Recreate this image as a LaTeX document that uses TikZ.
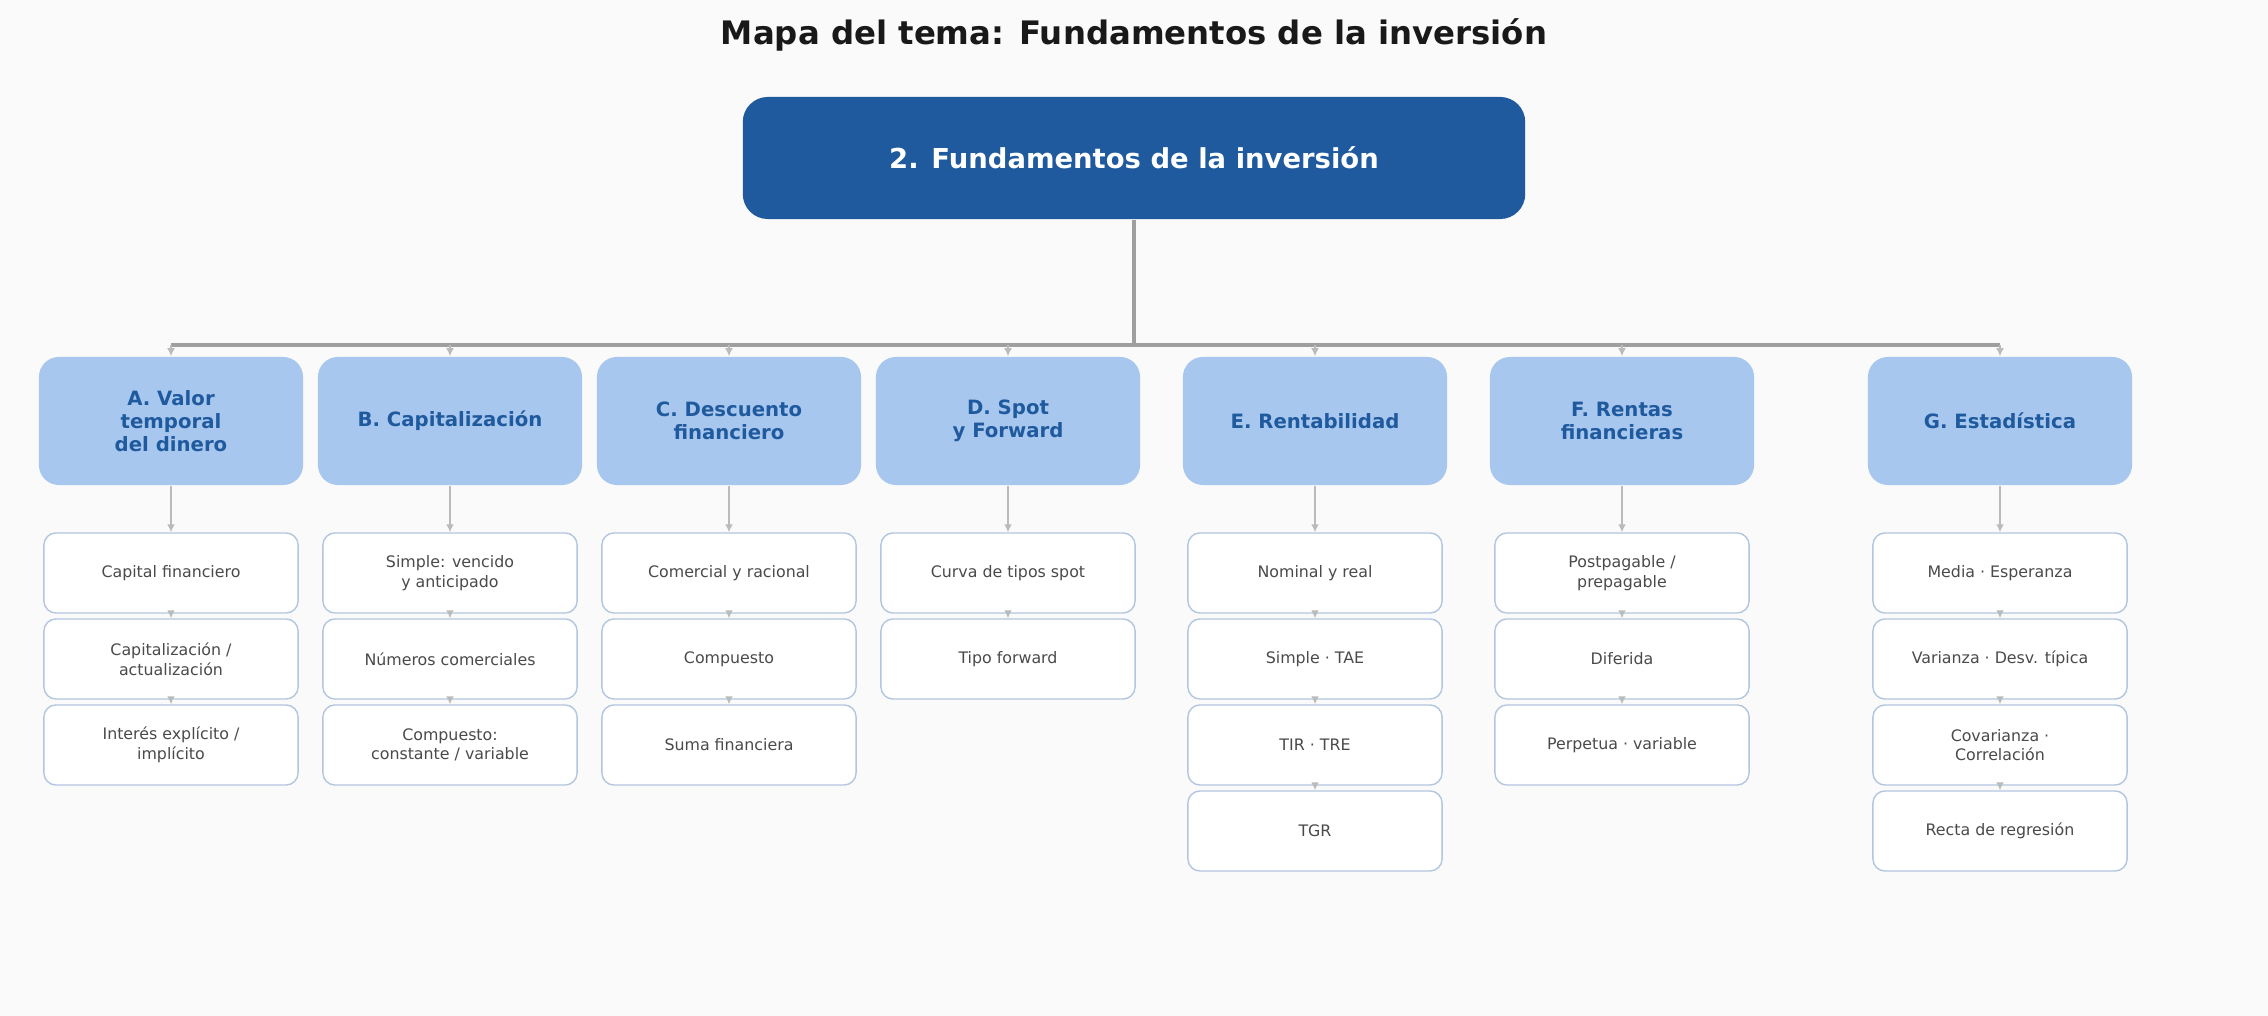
\documentclass[tikz,border=0pt]{standalone}
\usepackage{fontspec}
\setmainfont{DejaVu Sans}
\usetikzlibrary{arrows.meta,positioning}
\definecolor{bgcol}{HTML}{FAFAFA}
\definecolor{rootcol}{HTML}{1F5A9E}
\definecolor{catcol}{HTML}{A8C7EE}
\definecolor{leafline}{HTML}{B3C6E0}
\definecolor{linkcol}{HTML}{BBBBBB}
\definecolor{leaftext}{HTML}{4A4A4A}
\tikzset{
  rootbox/.style={fill=rootcol,text=white,rounded corners=0.25cm,minimum width=7.82cm,minimum height=1.22cm,font=\fontsize{7.8}{9}\selectfont\bfseries},
  catbox/.style={fill=catcol,text=rootcol,rounded corners=0.2cm,minimum width=2.64cm,minimum height=1.28cm,align=center,font=\fontsize{5.6}{6.6}\selectfont\bfseries},
  leafbox/.style={fill=white,draw=leafline,line width=0.4pt,text=leaftext,rounded corners=0.12cm,minimum width=2.54cm,minimum height=0.8cm,align=center,font=\fontsize{4.5}{5.6}\selectfont},
  link/.style={draw=linkcol,line width=0.7pt,-{Latex[length=0.8mm,width=0.8mm]}}
}
\begin{document}
\begin{tikzpicture}[x=0.01cm,y=-0.01cm]
\fill[bgcol] (0,0) rectangle (2268,1016);
\node[font=\fontsize{9.2}{11}\selectfont\bfseries,text=black!90] (title) at (1134,35) {Mapa del tema: Fundamentos de la inversión};
\node[rootbox] (root) at (1134,158) {2. Fundamentos de la inversión};
\coordinate (bus) at (1134,345);
\draw[draw=linkcol!85!black,line width=1pt] (root.south) -- (bus);
\draw[draw=linkcol!85!black,line width=1pt] (171,345) -- (2000,345);

% categorias
\foreach \name/\x/\txt in {A/171/{A. Valor\\temporal\\del dinero},B/450/{B. Capitalización},C/729/{C. Descuento\\financiero},D/1008/{D. Spot\\y Forward},E/1315/{E. Rentabilidad},F/1622/{F. Rentas\\financieras},G/2000/{G. Estadística}}{
  \node[catbox] (cat-\name) at (\x,421) {\txt};
  \coordinate (top-\name) at (\x,345);
  \draw[link] (top-\name) -- (cat-\name.north);
}

% hojas
\foreach \name/\x/\list in {
  A/171/{Capital financiero,Capitalización /\\actualización,Interés explícito /\\implícito},
  B/450/{Simple: vencido\\y anticipado,Números comerciales,Compuesto:\\constante / variable},
  C/729/{Comercial y racional,Compuesto,Suma financiera},
  D/1008/{Curva de tipos spot,Tipo forward},
  E/1315/{Nominal y real,Simple · TAE,TIR · TRE,TGR},
  F/1622/{Postpagable /\\prepagable,Diferida,Perpetua · variable},
  G/2000/{Media · Esperanza,Varianza · Desv. típica,Covarianza ·\\Correlación,Recta de regresión}}{
  \foreach \txt [count=\i] in \list {
    \node[leafbox] (leaf-\name-\i) at (\x,573+86*\i-86) {\txt};
  }
  \draw[link] (cat-\name.south) -- (leaf-\name-1.north);
  \foreach \i [remember=\i as \j (initially 1)] in {2,3,4}{
    \ifcsname pgf@sh@ns@leaf-\name-\i\endcsname
      \draw[link] (leaf-\name-\j.south) -- (leaf-\name-\i.north);
    \fi
  }
}
\end{tikzpicture}
\end{document}
